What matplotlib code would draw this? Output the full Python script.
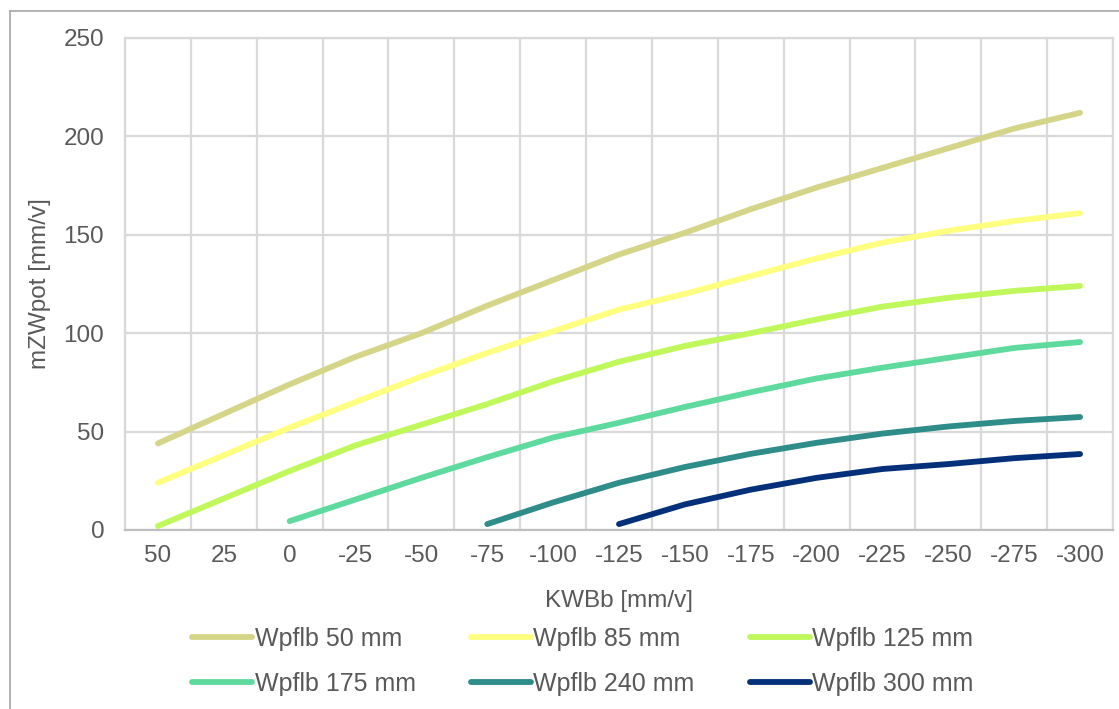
import matplotlib.pyplot as plt
from matplotlib.lines import Line2D
import numpy as np

plt.rcParams['font.family'] = ['Liberation Sans', 'DejaVu Sans']

# Kategorien der x-Achse
kwbb = ['50', '25', '0', '-25', '-50', '-75', '-100', '-125', '-150',
        '-175', '-200', '-225', '-250', '-275', '-300']
nan = np.nan

# Kurven mZWpot je Wpflb
w50 = [44, 59, 74, 88, 100, 114, 127, 140, 151, 163, 174, 184, 194, 204, 212]
w85 = [24, 38, 52, 65, 78, 90, 101, 112, 120, 129, 138, 146, 152, 157, 161]
w125 = [2, 16, 30, 43, 53.5, 64, 75.5, 85.5, 93.5, 100, 107, 113.5, 118, 121.5, 124]
w175 = [nan, nan, 4.5, 15.5, 26.5, 37, 47, 54.5, 62.5, 70, 77, 82.5, 87.5, 92.5, 95.5]
w240 = [nan, nan, nan, nan, nan, 3, 14, 24, 32, 38.7, 44.3, 49, 52.6, 55.4, 57.4]
w300 = [nan, nan, nan, nan, nan, nan, nan, 3, 13, 20.5, 26.5, 31, 33.5, 36.5, 38.6]

series = [
    ('Wpflb 50 mm', w50, '#d5d58a'),
    ('Wpflb 85 mm', w85, '#ffff80'),
    ('Wpflb 125 mm', w125, '#c0f85c'),
    ('Wpflb 175 mm', w175, '#5fda9e'),
    ('Wpflb 240 mm', w240, '#2e8c89'),
    ('Wpflb 300 mm', w300, '#04307a'),
]

textcol = '#595959'
gridcol = '#d9d9d9'

fig = plt.figure(figsize=(11.19, 7.09), dpi=100)
ax = fig.add_axes([125 / 1119, 1 - 530 / 709, 988 / 1119, 492 / 709])

x = np.arange(len(kwbb))
handles = {}
for name, vals, col in series:
    ln, = ax.plot(x, vals, color=col, lw=4.2, solid_capstyle='round',
                  solid_joinstyle='round', label=name)
    handles[name] = ln

ax.set_xlim(-0.5, len(kwbb) - 0.5)
ax.set_ylim(0, 250)
ax.set_yticks([0, 50, 100, 150, 200, 250])
ax.set_xticks(x)
ax.set_xticklabels(kwbb)
ax.set_xticks(np.arange(-0.5, len(kwbb)), minor=True)

ax.grid(True, which='minor', axis='x', color=gridcol, lw=1.6)
ax.grid(True, which='major', axis='y', color=gridcol, lw=1.6)
ax.set_axisbelow(True)
ax.tick_params(which='both', length=0, labelsize=17.5, colors=textcol)
ax.tick_params(axis='x', pad=11)
ax.tick_params(axis='y', pad=15)
for s in ax.spines.values():
    s.set_color(gridcol)
    s.set_linewidth(1.6)
ax.spines['bottom'].set_color('#bfbfbf')

ax.set_xlabel('KWBb [mm/v]', fontsize=17.5, color=textcol, va='center')
ax.xaxis.set_label_coords(0.5, -(601 - 530) / 492)
ax.set_ylabel('mZWpot [mm/v]', fontsize=17.5, color=textcol, va='center')
ax.yaxis.set_label_coords(-(125 - 40) / 988, 0.5)

# Legende: zeilenweise Reihenfolge wie im Original
order = ['Wpflb 50 mm', 'Wpflb 175 mm', 'Wpflb 85 mm', 'Wpflb 240 mm',
         'Wpflb 125 mm', 'Wpflb 300 mm']
leg = fig.legend([handles[n] for n in order], order, loc='center',
                 bbox_to_anchor=(583 / 1119, 1 - 661.5 / 709), ncol=3,
                 frameon=False, fontsize=18, handlelength=2.4,
                 handletextpad=0.1, columnspacing=2.2, labelspacing=0.85,
                 borderpad=0)
for t in leg.get_texts():
    t.set_color(textcol)

# Rahmen des Diagrammbereichs (links/oben sichtbar)
fig.add_artist(Line2D([10 / 1119, 10 / 1119], [1 - 11 / 709, 0],
                      transform=fig.transFigure, color='#a6a6a6', lw=1.2))
fig.add_artist(Line2D([10 / 1119, 1], [1 - 11 / 709, 1 - 11 / 709],
                      transform=fig.transFigure, color='#a6a6a6', lw=1.2))

fig.savefig('out.png', dpi=100)
